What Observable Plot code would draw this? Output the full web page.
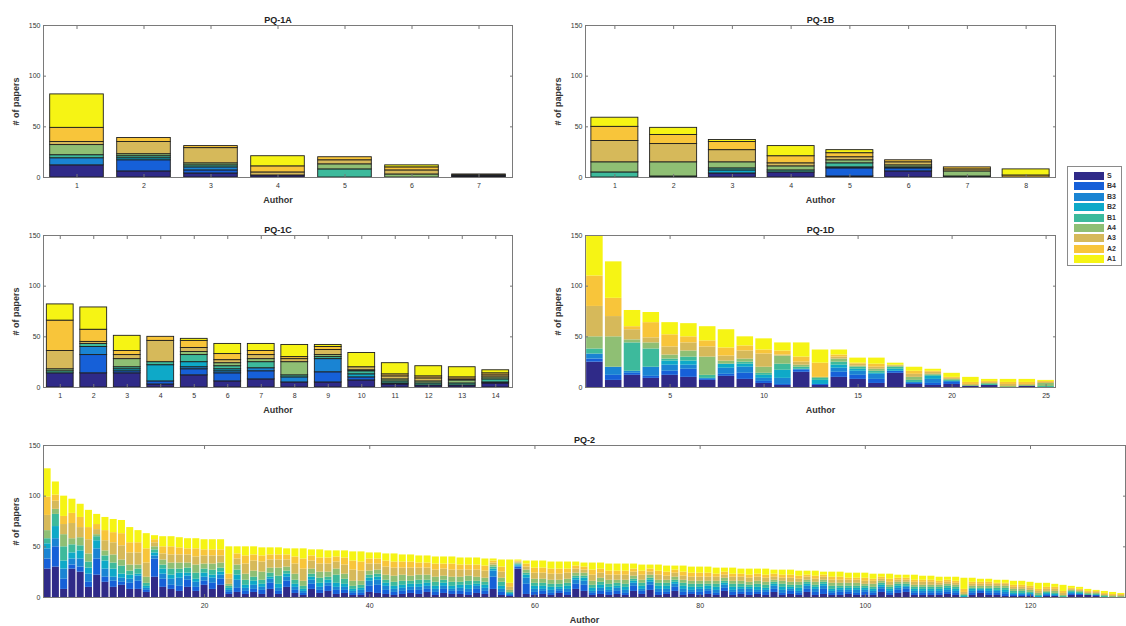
<!DOCTYPE html>
<html><head><meta charset="utf-8">
<script src="https://cdn.jsdelivr.net/npm/d3@7"></script>
<script src="https://cdn.jsdelivr.net/npm/@observablehq/plot@0.6"></script>
<style>
body{margin:0;background:#fff;font-family:"Liberation Sans",Arial,sans-serif;}
#root{position:relative;width:1126px;height:626px;overflow:hidden;background:#fff;}
.panel{position:absolute;}
.legend{position:absolute;left:1067px;top:166px;width:55px;height:100px;border:1px solid #8a8a8a;box-sizing:border-box;background:#fff;}
.lrow{position:absolute;left:6px;height:10px;}
.lsw{position:absolute;left:0;top:1px;width:30px;height:8px;}
.ltx{position:absolute;left:33px;top:0;font-size:7px;line-height:10px;font-weight:bold;color:#333;}
</style>
</head><body><div id="root"></div>
<script>
const series = ["S","B4","B3","B2","B1","A4","A3","A2","A1"];
const colors = ["#2f2a88","#1660d8","#1a84d3","#0ea9c8","#3dba9c","#8fbf74","#d6b95a","#f8c53a","#f6f414"];
const yTicks = [0,50,100,150];

// each row: S, B4, B3, B2, B1, A4, A3, A2, A1
const pq1a = [
 [12,0,7,0,3,10,3,14,33],
 [6,11,0,2,2,2,12,4,0],
 [4,3,3,0,2,2,15,2,0],
 [2,0,0,0,0,0,3,6,10],
 [0,0,0,0,8,5,4,3,0],
 [0,0,0,0,0,3,4,3,2],
 [1,1,0,0,0,0,1,0,0]
];
const pq1b = [
 [0,0,0,0,5,10,21,14,9],
 [0,0,0,0,1,14,18,9,7],
 [4,0,0,3,2,6,12,8,2],
 [5,0,0,0,2,4,3,7,10],
 [1,8,1,0,4,3,3,4,3],
 [6,3,0,0,1,2,3,2,0],
 [0,0,0,0,1,5,2,2,0],
 [0,0,0,0,0,0,0,2,6]
];
const pq1c = [
 [14,0,0,0,2,2,18,30,16],
 [14,18,8,0,3,0,2,12,22],
 [14,2,0,2,2,8,4,4,15],
 [3,3,0,16,3,0,21,4,0],
 [12,6,2,5,7,3,4,7,2],
 [6,8,2,2,3,3,3,6,10],
 [8,8,3,0,6,3,4,4,7],
 [5,0,5,0,2,13,3,2,12],
 [5,10,13,0,2,2,5,3,2],
 [7,3,0,3,3,1,3,0,14],
 [3,1,0,0,2,2,3,2,11],
 [2,0,0,0,2,2,3,2,10],
 [2,0,0,0,2,3,1,2,10],
 [4,1,0,0,3,2,2,2,3]
];
const pq1d = [
 [25,3,5,0,5,12,30,30,40],
 [7,5,8,0,0,30,20,18,36],
 [12,2,2,0,28,3,10,3,16],
 [9,2,9,0,18,6,5,15,10],
 [12,4,6,4,2,4,8,12,12],
 [10,8,4,4,4,6,8,6,13],
 [7,1,1,0,3,18,10,6,14],
 [11,2,6,4,0,3,5,8,18],
 [8,6,6,3,2,3,8,5,9],
 [4,2,3,3,2,6,13,4,11],
 [2,1,6,8,6,8,1,4,8],
 [15,2,1,0,2,2,3,5,14],
 [2,1,0,4,2,1,0,14,13],
 [10,5,4,3,3,3,2,2,5],
 [8,4,4,2,2,1,2,1,5],
 [4,4,5,1,2,2,2,3,6],
 [14,2,0,2,2,1,1,0,2],
 [3,1,1,0,2,3,3,3,4],
 [2,2,4,3,1,1,2,1,2],
 [3,2,1,0,1,1,1,1,4],
 [1,0,0,0,0,1,1,2,5],
 [2,0,0,0,1,1,1,1,2],
 [0,0,0,0,0,1,2,2,3],
 [1,0,0,0,0,1,1,2,3],
 [0,0,0,0,1,3,1,1,1]
];
const pq2 = [
 [28,10,10,5,5,8,15,18,28],
 [30,20,8,12,12,5,8,6,13],
 [8,10,10,8,14,12,10,8,20],
 [28,4,6,6,8,6,15,10,14],
 [25,5,8,8,5,8,10,10,13],
 [10,5,8,6,6,8,14,12,17],
 [22,16,10,8,4,2,5,5,10],
 [15,5,8,8,5,5,10,10,13],
 [10,6,4,8,6,8,12,10,13],
 [12,3,4,4,8,6,14,12,13],
 [8,6,4,4,4,6,12,10,15],
 [8,8,5,2,5,4,12,10,12],
 [5,2,2,2,3,6,14,14,15],
 [20,18,3,3,3,3,4,3,4],
 [10,8,5,5,4,5,6,7,10],
 [8,4,6,4,6,6,8,8,10],
 [6,5,8,5,4,6,8,7,10],
 [10,7,4,3,5,5,8,6,10],
 [6,4,5,3,6,8,8,8,10],
 [12,4,4,4,4,5,8,6,10],
 [8,6,5,3,5,6,8,6,10],
 [12,6,4,3,4,5,7,6,10],
 [3,2,2,2,2,2,5,5,27],
 [5,4,8,5,5,5,6,5,7],
 [3,3,3,3,5,6,10,8,9],
 [5,3,4,4,4,6,10,6,8],
 [3,4,3,3,4,8,10,6,8],
 [8,6,4,2,4,5,8,5,7],
 [3,3,3,4,8,8,8,5,7],
 [10,6,4,3,3,4,7,5,6],
 [4,3,3,3,4,6,10,7,8],
 [2,2,2,2,3,5,12,10,10],
 [8,5,4,3,3,5,8,5,6],
 [4,3,3,4,5,6,8,6,8],
 [6,5,3,3,3,5,8,6,7],
 [3,4,3,4,8,6,7,5,6],
 [4,3,3,3,5,5,9,7,7],
 [2,2,2,2,3,5,11,9,9],
 [2,2,3,2,3,4,10,9,10],
 [5,6,5,3,3,4,7,5,6],
 [4,8,5,3,3,4,6,5,6],
 [3,4,4,3,3,5,8,6,7],
 [2,3,3,3,4,6,8,6,8],
 [3,3,3,3,4,6,7,6,7],
 [4,3,3,3,3,5,8,6,7],
 [3,4,3,3,4,5,7,5,7],
 [5,3,3,3,3,5,7,5,7],
 [2,3,3,3,4,5,7,6,7],
 [4,4,3,3,3,4,7,5,7],
 [3,3,2,3,4,5,7,6,7],
 [3,3,3,3,3,5,7,5,7],
 [2,3,3,4,4,5,6,5,7],
 [4,4,3,2,3,4,7,5,7],
 [3,3,3,3,3,4,7,5,7],
 [8,12,6,2,2,2,2,2,2],
 [2,3,3,3,4,4,6,5,7],
 [1,1,1,1,1,2,3,4,23],
 [28,2,1,1,1,1,1,1,1],
 [3,10,6,3,2,3,3,3,3],
 [2,3,3,3,3,4,6,5,7],
 [3,3,2,3,3,4,6,5,7],
 [2,2,3,3,3,4,6,5,7],
 [4,2,2,2,3,4,6,5,7],
 [2,3,3,3,3,4,6,4,7],
 [8,5,4,2,2,3,4,3,4],
 [6,6,4,3,2,3,3,3,4],
 [2,2,2,3,3,4,6,5,7],
 [3,3,3,3,3,4,5,4,6],
 [2,3,2,3,3,4,5,4,7],
 [3,3,3,2,3,3,5,4,7],
 [2,2,3,3,3,4,5,4,7],
 [6,5,3,2,2,3,4,3,5],
 [3,3,2,3,3,3,5,4,6],
 [7,5,3,2,2,3,3,3,4],
 [2,3,3,3,3,3,5,4,6],
 [3,2,3,3,3,3,4,4,6],
 [6,4,3,2,2,3,4,3,4],
 [2,3,3,3,3,3,4,4,6],
 [3,2,2,3,3,3,4,4,6],
 [2,3,3,2,3,3,4,4,6],
 [3,3,2,3,2,3,4,4,6],
 [2,2,3,3,3,3,4,3,6],
 [6,3,3,2,2,3,3,3,4],
 [2,3,2,3,3,3,4,3,6],
 [3,2,3,2,3,3,4,3,5],
 [2,3,3,2,2,3,4,3,6],
 [3,2,2,3,3,3,4,3,5],
 [2,3,2,2,3,3,4,3,6],
 [5,3,3,2,2,2,3,3,4],
 [2,2,3,3,3,3,3,3,5],
 [3,3,2,2,2,3,4,3,5],
 [2,2,2,3,3,3,3,3,5],
 [5,3,3,2,2,2,3,2,4],
 [2,3,3,2,2,3,3,3,5],
 [3,5,3,2,2,2,3,2,3],
 [2,2,2,2,3,3,3,3,5],
 [2,3,2,2,2,3,3,3,5],
 [3,2,2,2,2,3,3,2,5],
 [2,2,3,2,2,3,3,2,5],
 [2,3,2,2,2,2,3,3,5],
 [2,2,2,2,2,3,3,2,5],
 [5,3,2,2,2,2,2,2,3],
 [2,2,2,2,2,2,3,3,5],
 [4,3,2,2,2,2,2,2,3],
 [5,3,2,1,2,2,2,2,3],
 [2,2,2,2,2,2,3,2,5],
 [2,2,2,2,2,2,3,2,4],
 [2,2,2,2,2,2,3,2,4],
 [2,2,2,2,2,2,2,2,4],
 [3,2,2,2,2,2,2,2,3],
 [2,2,2,2,2,2,2,2,4],
 [0,0,0,1,1,1,2,3,11],
 [2,2,2,2,1,2,2,2,4],
 [4,2,1,1,1,2,2,2,3],
 [2,2,2,2,1,2,2,2,3],
 [2,2,2,1,2,2,2,1,3],
 [1,2,2,2,2,2,2,1,3],
 [1,1,1,1,2,2,2,2,4],
 [1,1,1,1,2,2,2,2,4],
 [1,1,1,1,1,2,2,2,4],
 [0,0,0,1,1,2,2,2,6],
 [1,1,1,1,1,1,2,2,4],
 [1,0,1,1,1,2,2,2,3],
 [0,0,0,0,1,1,2,2,6],
 [2,1,1,1,1,1,1,1,2],
 [2,1,0,1,1,1,1,1,2],
 [2,0,0,0,1,1,1,1,2],
 [1,1,0,0,1,1,1,1,1],
 [0,0,0,0,1,1,1,1,2],
 [0,0,0,0,0,1,1,1,2],
 [0,0,0,0,0,1,1,1,1]
];
const ticks1a = [1,2,3,4,5,6,7];
const ticks1b = [1,2,3,4,5,6,7,8];
const ticks1c = [1,2,3,4,5,6,7,8,9,10,11,12,13,14];
const ticks1d = [5,10,15,20,25];
const ticks2 = [20,40,60,80,100,120];

function stack(rows){
  const out = [];
  rows.forEach((r,i)=>{
    let y = 0;
    r.forEach((v,j)=>{
      if (v > 0) out.push({author:i+1, series:series[j], y1:y, y2:y+v});
      y += v;
    });
  });
  return out;
}

const font = '"Liberation Sans", Arial, sans-serif';
function panel(cfg){
  const {rows, title, left, top, width, height, ml, mr, mt, mb, xticks, bw, edges} = cfg;
  const n = rows.length;
  const data = stack(rows);
  const p = Plot.plot({
    width, height, marginLeft: ml, marginRight: mr, marginTop: mt, marginBottom: mb,
    style: {fontFamily: font, fontSize: "7px", color: "#333", background: "transparent", overflow: "visible"},
    x: {domain: [0.5, n + 0.5]},
    y: {domain: [0, 150]},
    color: {domain: series, range: colors},
    marks: [
      Plot.rect(data, {
        x1: d => d.author - bw/2, x2: d => d.author + bw/2, y1: "y1", y2: "y2",
        fill: "series", stroke: edges ? "#1e1e1e" : null, strokeWidth: edges ? 0.9 : 0
      }),
      Plot.frame({stroke: "#7a7a7a"}),
      Plot.axisX({ticks: xticks, tickSize: -3, tickPadding: 9, stroke: "#777",
        label: "Author", labelAnchor: "center", labelArrow: "none", labelOffset: 25,
        tickFormat: d => String(d)}),
      Plot.axisX({anchor: "top", ticks: xticks, tickSize: -3, stroke: "#777", tickFormat: () => "", label: null}),
      Plot.axisY({ticks: yTicks, tickSize: -3, tickPadding: 6, stroke: "#777",
        label: "# of papers", labelAnchor: "center", labelArrow: "none", labelOffset: 31}),
      Plot.axisY({anchor: "right", ticks: yTicks, tickSize: -3, stroke: "#777", tickFormat: () => "", label: null}),
      Plot.text([title], {frameAnchor: "top", dy: -9, text: d => d, fontWeight: "bold", fontSize: 9, fill: "#222"})
    ]
  });
  p.classList.add("panel");
  p.style.left = left + "px";
  p.style.top = top + "px";
  p.querySelectorAll("g[aria-label='x-axis label'] text, g[aria-label='y-axis label'] text").forEach(t => {
    t.setAttribute("font-weight", "bold"); t.setAttribute("font-size", "9");
  });
  document.getElementById("root").appendChild(p);
}

panel({rows: pq1a, title: "PQ-1A", left: 0, top: 0, width: 520, height: 210, ml: 43, mr: 8, mt: 25, mb: 33, xticks: ticks1a, bw: 0.8, edges: true});
panel({rows: pq1b, title: "PQ-1B", left: 520, top: 0, width: 540, height: 210, ml: 65, mr: 5, mt: 25, mb: 33, xticks: ticks1b, bw: 0.8, edges: true});
panel({rows: pq1c, title: "PQ-1C", left: 0, top: 210, width: 520, height: 210, ml: 43, mr: 8, mt: 25, mb: 33, xticks: ticks1c, bw: 0.8, edges: true});
panel({rows: pq1d, title: "PQ-1D", left: 520, top: 210, width: 540, height: 210, ml: 65, mr: 5, mt: 25, mb: 33, xticks: ticks1d, bw: 0.88, edges: false});
panel({rows: pq2, title: "PQ-2", left: 0, top: 420, width: 1126, height: 206, ml: 43, mr: 1, mt: 25, mb: 29, xticks: ticks2, bw: 0.85, edges: false});

const lg = document.createElement("div");
lg.className = "legend";
series.forEach((s, i) => {
  const r = document.createElement("div");
  r.className = "lrow";
  r.style.top = (4 + i * 10.4) + "px";
  r.innerHTML = `<div class="lsw" style="background:${colors[i]}"></div><div class="ltx">${s}</div>`;
  lg.appendChild(r);
});
document.getElementById("root").appendChild(lg);
</script>
</body></html>
